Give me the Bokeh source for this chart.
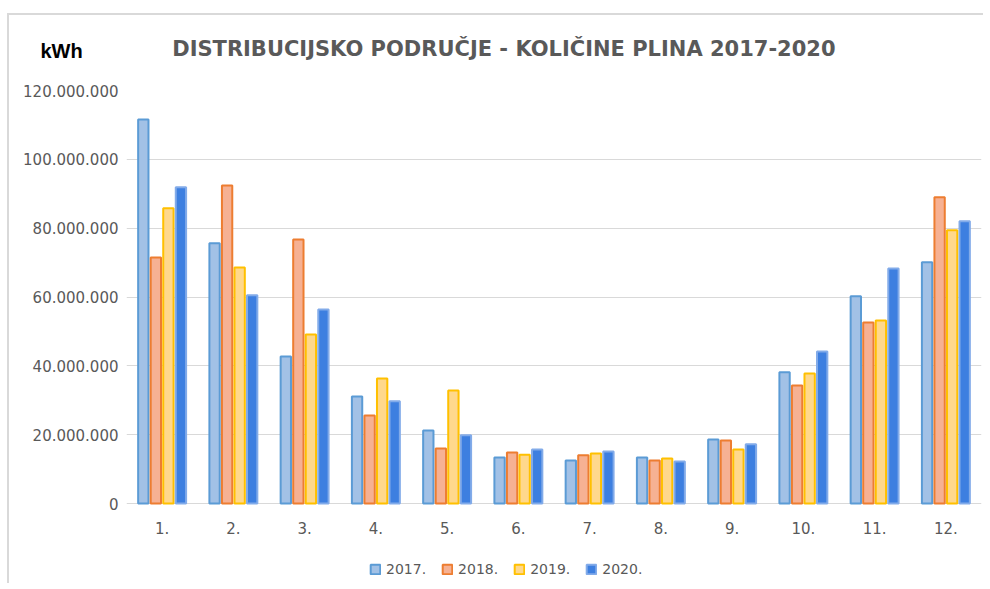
from bokeh.plotting import figure
from bokeh.models import FactorRange, ColumnDataSource, Legend, LegendItem, Label, FixedTicker
from bokeh.transform import dodge
from bokeh.embed import file_html
from bokeh.resources import INLINE

months = ["1.", "2.", "3.", "4.", "5.", "6.", "7.", "8.", "9.", "10.", "11.", "12."]
series_names = ["2017.", "2018.", "2019.", "2020."]
v2017 = [111.6, 75.6, 42.7, 31.1, 21.2, 13.4, 12.5, 13.4, 18.6, 38.1, 60.2, 70.1]
v2018 = [71.5, 92.4, 76.7, 25.6, 16.0, 14.8, 14.0, 12.5, 18.3, 34.3, 52.6, 89.0]
v2019 = [85.8, 68.6, 49.1, 36.3, 32.8, 14.2, 14.5, 13.1, 15.7, 37.8, 53.2, 79.4]
v2020 = [91.9, 60.5, 56.4, 29.7, 19.8, 15.7, 15.1, 12.2, 17.2, 44.2, 68.3, 82.0]
y_ticks = [0, 20, 40, 60, 80, 100, 120]
y_tick_labels = ["0", "20.000.000", "40.000.000", "60.000.000", "80.000.000", "100.000.000", "120.000.000"]

M = 1_000_000
src = ColumnDataSource(data=dict(
    month=months,
    zero=[0] * len(months),
    s2017=[v * M for v in v2017],
    s2018=[v * M for v in v2018],
    s2019=[v * M for v in v2019],
    s2020=[v * M for v in v2020],
))

# frame spans from the 120M line down to the canvas bottom, so the legend fits inside it
px_per_unit = (503 - 90) / 120.0
y_start = -(585 - 503) / px_per_unit * M

p = figure(x_range=FactorRange(factors=months), y_range=(y_start, 120 * M),
           width=976, height=570, output_backend="svg", toolbar_location=None,
           x_axis_location=None,
           min_border_left=117, min_border_right=4, min_border_top=75, min_border_bottom=0)
p.styles = {"border-top": "2px solid #d9d9d9", "border-left": "2px solid #d9d9d9",
            "margin-top": "13px", "margin-left": "7px"}
p.outline_line_color = None
p.background_fill_color = "white"
p.title.visible = False

fills = ["#a2c1e6", "#f6b193", "#ffd88c", "#3d7fe0"]
lines = ["#5b9bd5", "#ed7d31", "#ffc000", "#82abe9"]
offsets = [-0.264, -0.088, 0.088, 0.264]
cols = ["s2017", "s2018", "s2019", "s2020"]
renderers = []
for col, off, fc, lc in zip(cols, offsets, fills, lines):
    r = p.vbar(x=dodge("month", off, range=p.x_range), top=col, width=0.145, source=src,
               fill_color=fc, line_color=lc, line_width=2)
    renderers.append(r)

# month labels under the zero line
p.text(x="month", y="zero", text="month", source=src, y_offset=24,
       text_align="center", text_baseline="middle",
       text_font_size="15px", text_color="#595959", text_font={"value": "DejaVu Sans"})

p.yaxis.ticker = FixedTicker(ticks=[t * M for t in y_ticks])
p.yaxis.major_label_overrides = {t * M: lab for t, lab in zip(y_ticks, y_tick_labels)}
p.yaxis.axis_line_color = None
p.yaxis.major_tick_line_color = None
p.yaxis.minor_tick_line_color = None
p.yaxis.major_label_standoff = 2
p.yaxis.major_label_text_font = "DejaVu Sans"
p.yaxis.major_label_text_font_size = "15px"
p.yaxis.major_label_text_color = "#595959"

p.xgrid.grid_line_color = None
p.ygrid.grid_line_color = "#d9d9d9"
p.ygrid.grid_line_width = 1

legend = Legend(items=[LegendItem(label=n, renderers=[r]) for n, r in zip(series_names, renderers)],
                orientation="horizontal", location=(243, 8))
legend.border_line_color = None
legend.background_fill_alpha = 0
legend.padding = 0
legend.margin = 0
legend.spacing = 15
legend.glyph_width = 12
legend.glyph_height = 12
legend.label_standoff = 5
legend.label_text_font = "DejaVu Sans"
legend.label_text_font_size = "14px"
legend.label_text_color = "#595959"
p.add_layout(legend, "center")

title = Label(x=392, y=42, x_units="screen", y_units="screen",
              text="DISTRIBUCIJSKO  PODRUČJE  - KOLIČINE  PLINA  2017-2020",
              text_align="center", text_baseline="middle",
              text_font="DejaVu Sans", text_font_style="bold",
              text_font_size="21px", text_color="#595959")
p.add_layout(title, "above")
kwh = Label(x=-86, y=16, x_units="screen", y_units="screen", text="kWh",
            text_align="left", text_baseline="middle",
            text_font="Liberation Sans", text_font_style="bold",
            text_font_size="20px", text_color="#000000")
p.add_layout(kwh, "above")

open("out.html", "w").write(file_html(p, INLINE))
